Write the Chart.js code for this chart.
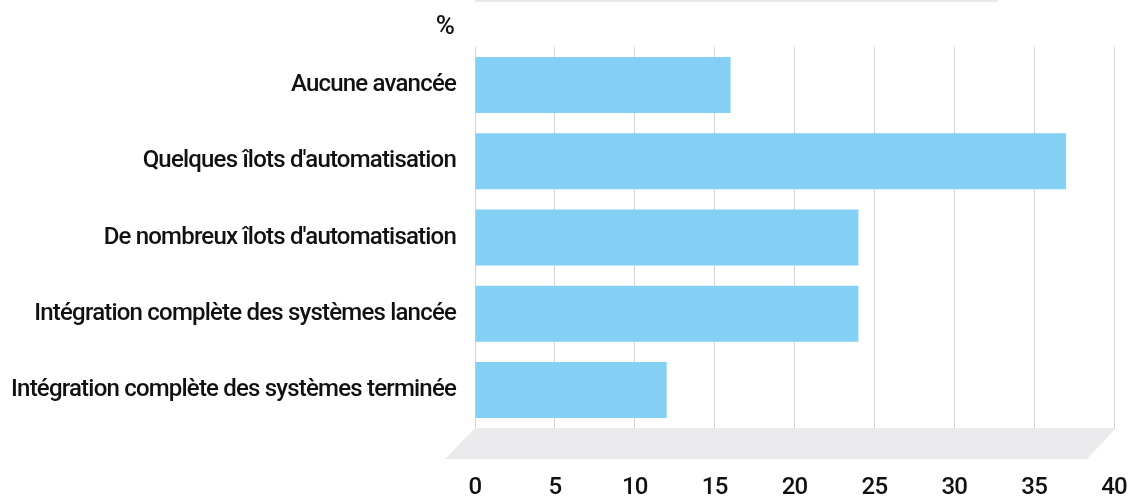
<!DOCTYPE html>
<html>
<head>
<meta charset="utf-8">
<script src="https://cdn.jsdelivr.net/npm/chart.js@4"></script>
<style>
html,body{margin:0;padding:0;background:#fff;}
#wrap{width:1130px;height:498px;position:relative;}
</style>
</head>
<body>
<div id="wrap"><canvas id="c" width="1130" height="498"></canvas></div>
<script>
const categories = [
  "Aucune avancée",
  "Quelques îlots d'automatisation",
  "De nombreux îlots d'automatisation",
  "Intégration complète des systèmes lancée",
  "Intégration complète des systèmes terminée"
];
const values = [16, 37, 24, 24, 12];
const xTicks = [0, 5, 10, 15, 20, 25, 30, 35, 40];
const unitLabel = "%";

const FONT = "Roboto, 'Noto Sans', sans-serif";

const decor = {
  id: 'decor',
  beforeDraw(chart) {
    chart.ctx.letterSpacing = '-0.8px';
  },
  beforeDatasetsDraw(chart) {
    const ctx = chart.ctx, a = chart.chartArea;
    ctx.save();
    // floor
    ctx.fillStyle = '#ebebed';
    ctx.beginPath();
    ctx.moveTo(a.left, a.bottom);
    ctx.lineTo(a.right + 2, a.bottom);
    ctx.lineTo(a.right - 27, a.bottom + 31);
    ctx.lineTo(a.left - 30, a.bottom + 31);
    ctx.closePath();
    ctx.fill();
    // top line
    ctx.fillStyle = '#e9e9e9';
    ctx.fillRect(a.left, 0, 523, 2);
    // unit
    ctx.fillStyle = '#111';
    ctx.font = "500 26px " + FONT;
    ctx.textAlign = 'center';
    ctx.textBaseline = 'middle';
    ctx.fillText(unitLabel, a.left - 30, 27);
    ctx.restore();
  }
};

new Chart(document.getElementById('c'), {
  type: 'bar',
  data: {
    labels: categories,
    datasets: [{
      data: values,
      backgroundColor: '#84d0f5',
      borderWidth: 0,
      barPercentage: 0.735,
      categoryPercentage: 1.0
    }]
  },
  options: {
    indexAxis: 'y',
    responsive: false,
    animation: false,
    events: [],
    layout: { padding: { top: 47, right: 16, left: 0, bottom: 0 } },
    plugins: { legend: { display: false }, tooltip: { enabled: false } },
    scales: {
      x: {
        min: 0, max: 40,
        afterBuildTicks(scale) { scale.ticks = xTicks.map(v => ({ value: v })); },
        afterFit(scale) { scale.height = 70; scale.paddingLeft = 0; scale.paddingRight = 0; },
        grid: { color: '#d4d4d4', lineWidth: 1, drawTicks: false },
        border: { display: false },
        ticks: {
          padding: 46,
          color: '#111',
          font: { family: FONT, size: 24, weight: '500' }
        }
      },
      y: {
        afterFit(scale) { scale.width = 475; scale.paddingTop = 0; scale.paddingBottom = 0; },
        grid: { display: false, drawTicks: false },
        border: { display: false },
        ticks: {
          padding: 19,
          color: '#111',
          font: { family: FONT, size: 24, weight: '500' }
        }
      }
    }
  },
  plugins: [decor]
});
</script>
</body>
</html>
